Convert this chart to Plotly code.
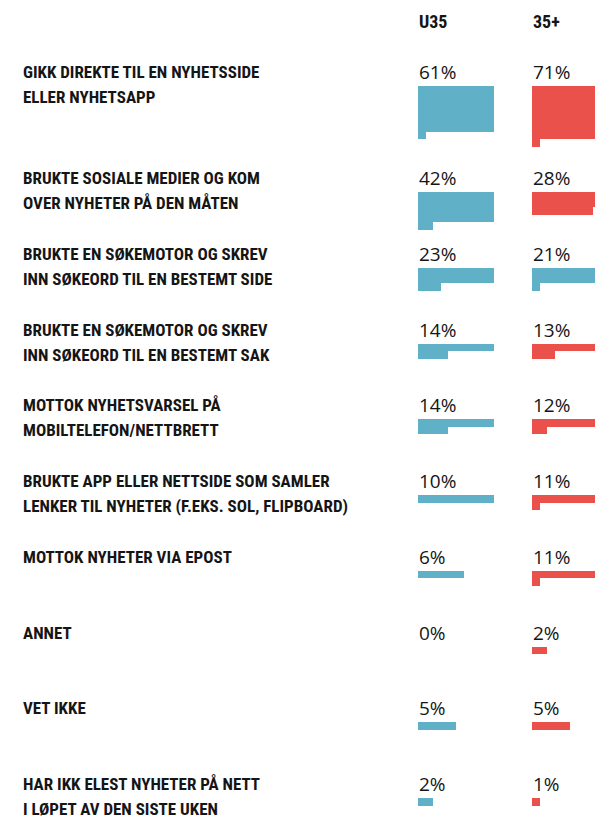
import plotly.graph_objects as go

# ---- data ----
categories = [
    "GIKK DIREKTE TIL EN NYHETSSIDE<br>ELLER NYHETSAPP",
    "BRUKTE SOSIALE MEDIER OG KOM<br>OVER NYHETER PÅ DEN MÅTEN",
    "BRUKTE EN SØKEMOTOR OG SKREV<br>INN SØKEORD TIL EN BESTEMT SIDE",
    "BRUKTE EN SØKEMOTOR OG SKREV<br>INN SØKEORD TIL EN BESTEMT SAK",
    "MOTTOK NYHETSVARSEL PÅ<br>MOBILTELEFON/NETTBRETT",
    "BRUKTE APP ELLER NETTSIDE SOM SAMLER<br>LENKER TIL NYHETER (F.EKS. SOL, FLIPBOARD)",
    "MOTTOK NYHETER VIA EPOST",
    "ANNET",
    "VET IKKE",
    "HAR IKK ELEST NYHETER PÅ NETT<br>I LØPET AV DEN SISTE UKEN",
]
groups = ["U35", "35+"]
u35 = [61, 42, 23, 14, 14, 10, 6, 0, 5, 2]
over35 = [71, 28, 21, 13, 12, 11, 11, 2, 5, 1]

# ---- styles / layout ----
W, H = 595, 819
BLUE = "#60b0c7"
RED = "#ea514b"
CELL = 7.6
PER_ROW = 10
COL_X = [418, 532]
Y0 = 72
PITCH = 75.75
EXTRA_FIRST = 30.25
BAR_OFFSET = 14
LABEL_X = 21
LINE_GAP = 25
TEXT = "#151515"
COND = "Roboto Condensed, DejaVu Sans Condensed, sans-serif"

def section_y(i):
    return Y0 + i * PITCH + (EXTRA_FIRST if i > 0 else 0)

colors = [[BLUE] * len(u35), [RED if i != 2 else BLUE for i in range(len(over35))]]

fig = go.Figure()
series = [u35, over35]
for g, vals in enumerate(series):
    xs, bases, ys, ws, cs = [], [], [], [], []
    for i, v in enumerate(vals):
        top = section_y(i) + BAR_OFFSET
        full = v // PER_ROW
        rem = v % PER_ROW
        if full > 0:
            xs.append(PER_ROW * CELL); bases.append(COL_X[g])
            ys.append(top + full * CELL / 2); ws.append(full * CELL); cs.append(colors[g][i])
        if rem > 0:
            xs.append(rem * CELL); bases.append(COL_X[g])
            ys.append(top + full * CELL + CELL / 2); ws.append(CELL); cs.append(colors[g][i])
    fig.add_trace(go.Bar(
        x=xs, base=bases, y=ys, width=ws, orientation="h",
        marker=dict(color=cs, line=dict(width=0)),
        hoverinfo="skip", showlegend=False,
    ))

annotations = []
for g, name in enumerate(groups):
    annotations.append(dict(
        x=COL_X[g] - 1, y=21, xref="x", yref="y", text=name, showarrow=False,
        xanchor="left", yanchor="middle",
        font=dict(family=COND, size=18, color=TEXT, weight="bold"),
    ))
for i, cat in enumerate(categories):
    yc = section_y(i)
    for k, line in enumerate(cat.split("<br>")):
        annotations.append(dict(
            x=LABEL_X, y=yc + k * LINE_GAP, xref="x", yref="y", text=line,
            showarrow=False, xanchor="left", yanchor="middle",
            font=dict(family=COND, size=17, color=TEXT, weight="bold"),
        ))
    for g, vals in enumerate(series):
        annotations.append(dict(
            x=COL_X[g] - 1, y=yc, xref="x", yref="y", text=f"{vals[i]}%",
            showarrow=False, xanchor="left", yanchor="middle",
            font=dict(family="Open Sans", size=19, color=TEXT),
        ))

fig.update_layout(
    width=W, height=H, autosize=False,
    margin=dict(l=0, r=0, t=0, b=0),
    paper_bgcolor="white", plot_bgcolor="white",
    barmode="overlay", bargap=0,
    xaxis=dict(range=[0, W], visible=False, fixedrange=True),
    yaxis=dict(range=[H, 0], visible=False, fixedrange=True),
    annotations=annotations,
)

fig.write_html(
    "out.html",
    config={"displayModeBar": False},
    post_script=(
        "document.documentElement.style.margin='0';"
        "document.body.style.margin='0';"
        "document.body.style.overflow='hidden';"
    ),
)
